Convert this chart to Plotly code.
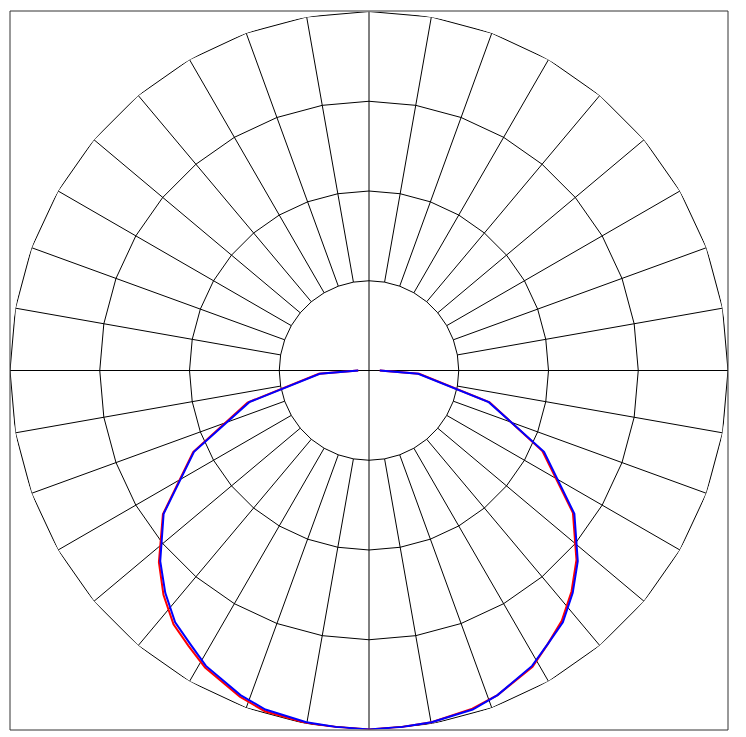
import plotly.graph_objects as go

gama = [0, 5.3, 10.1, 17, 21.6, 28.9, 33.2, 37.6, 42.5, 47.6, 55.1, 65.1, 75.2, 86.2, 90]
azul = [400, 399, 398, 395, 389, 376, 364, 354, 336, 315, 279, 215, 138, 55, 12]
vermelho_esq = [400, 399, 399, 397, 391, 378, 367, 357, 339, 317, 280, 216, 140, 56, 12]
vermelho_dir = [400, 399, 398, 394, 389, 377, 364, 352, 334, 313, 277, 213, 139, 56, 12]

# Grade: anéis e raios
aneis = [100, 200, 300, 400]
angulos = list(range(0, 360, 10))

fig = go.Figure()

# Anéis desenhados como polígonos (vértices a cada 10 graus)
for r in aneis:
    fig.add_trace(go.Scatterpolar(
        r=[r] * (len(angulos) + 1),
        theta=angulos + [360],
        mode="lines",
        line=dict(color="black", width=1),
        hoverinfo="skip",
        showlegend=False
    ))

# Raios: os eixos principais passam pelo centro, os outros começam no primeiro anel
raio_r = []
raio_t = []
for a in angulos:
    inicio = 0 if a % 90 == 0 else aneis[0]
    raio_r += [inicio, aneis[-1], None]
    raio_t += [a, a, None]
fig.add_trace(go.Scatterpolar(
    r=raio_r,
    theta=raio_t,
    mode="lines",
    line=dict(color="black", width=1),
    hoverinfo="skip",
    showlegend=False
))

# Curvas: lado esquerdo com ângulo negativo, lado direito positivo
theta_total = [-g for g in gama[::-1]] + gama[1:]
fig.add_trace(go.Scatterpolar(
    r=vermelho_esq[::-1] + vermelho_dir[1:],
    theta=theta_total,
    mode="lines",
    line=dict(color="red", width=2),
    name="C0-C180",
    showlegend=False
))
fig.add_trace(go.Scatterpolar(
    r=azul[::-1] + azul[1:],
    theta=theta_total,
    mode="lines",
    line=dict(color="blue", width=2),
    name="C90-C270",
    showlegend=False
))

# A página tem margem de 8px no body, por isso as margens são menores
fig.update_layout(
    width=738,
    height=729,
    margin=dict(l=2, r=18, t=3, b=7),
    paper_bgcolor="white",
    polar=dict(
        bgcolor="white",
        domain=dict(x=[0, 1], y=[0, 1]),
        radialaxis=dict(range=[0, 400], visible=False, showgrid=False),
        angularaxis=dict(rotation=-90, direction="counterclockwise",
                         visible=False, showgrid=False, showline=False)
    ),
    shapes=[dict(type="rect", xref="paper", yref="paper", x0=0, y0=0, x1=1, y1=1,
                 line=dict(color="#333", width=1))]
)

fig.write_html("out.html")
